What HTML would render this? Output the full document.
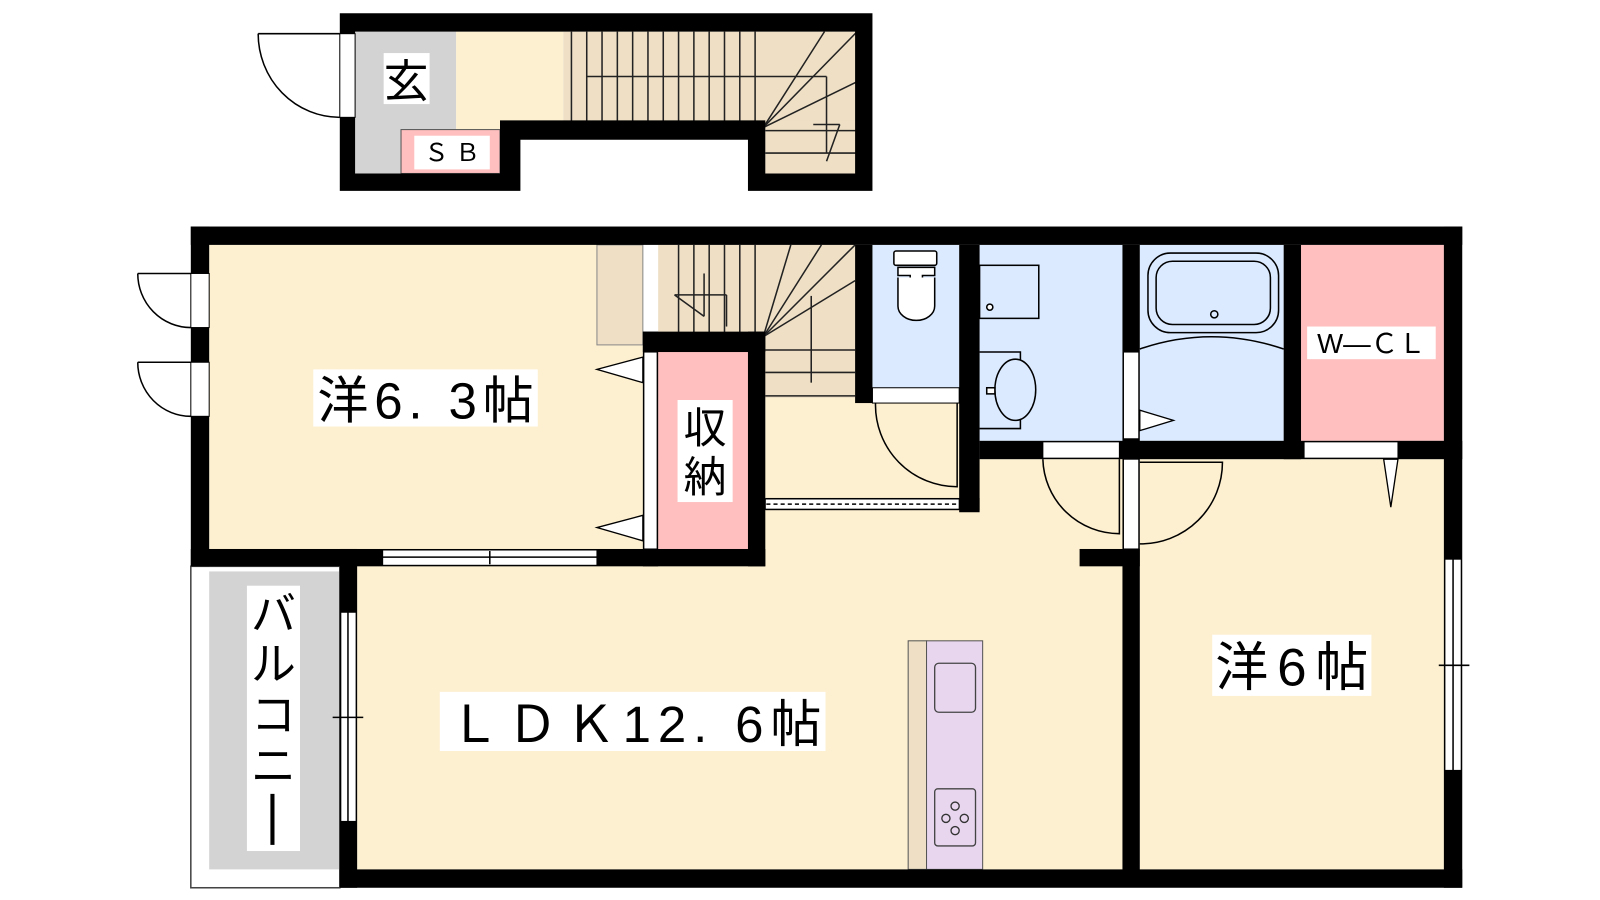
<!DOCTYPE html>
<html><head><meta charset="utf-8"><style>
html,body{margin:0;padding:0;background:#fff;width:1600px;height:900px;overflow:hidden}
svg text{font-family:"Liberation Sans","Noto Sans CJK JP",sans-serif}
</style></head><body>
<svg width="1600" height="900" viewBox="0 0 1568 882" xmlns="http://www.w3.org/2000/svg">
<!-- TOP ENTRY BLOCK -->
<rect x="348" y="31" width="99" height="139" fill="#d3d3d3"/>
<rect x="447" y="31" width="105" height="96" fill="#fdf0d0"/>
<rect x="552" y="31" width="288" height="89" fill="#eedfc5"/>
<rect x="750" y="118" width="90" height="52" fill="#eedfc5"/>
<rect x="393" y="127" width="97" height="43" fill="#ffbfbf" stroke="#555" stroke-width="1"/>
<g stroke="#222" stroke-width="1.5">
<line x1="560" y1="31" x2="560" y2="120"/><line x1="575" y1="31" x2="575" y2="120"/><line x1="590" y1="31" x2="590" y2="120"/><line x1="605" y1="31" x2="605" y2="120"/><line x1="620" y1="31" x2="620" y2="120"/><line x1="635" y1="31" x2="635" y2="120"/><line x1="650" y1="31" x2="650" y2="120"/><line x1="665" y1="31" x2="665" y2="120"/><line x1="680" y1="31" x2="680" y2="120"/><line x1="695" y1="31" x2="695" y2="120"/><line x1="710" y1="31" x2="710" y2="120"/><line x1="725" y1="31" x2="725" y2="120"/><line x1="740" y1="31" x2="740" y2="120"/>
<line x1="575" y1="75" x2="810" y2="75"/><line x1="810" y1="75" x2="810" y2="150"/>
<line x1="748" y1="125" x2="808" y2="31"/><line x1="748" y1="125" x2="840" y2="31"/><line x1="748" y1="125" x2="840" y2="80"/>
<line x1="750" y1="128" x2="840" y2="128"/><line x1="750" y1="150" x2="840" y2="150"/><line x1="750" y1="171" x2="840" y2="171"/>
<line x1="797" y1="122" x2="823" y2="122"/><line x1="823" y1="122" x2="810" y2="158"/>
</g>
<path d="M333,13 H855 V187 H733 V137 H510 V187 H333 Z M348,31 V170 H490 V118 H750 V170 H838 V31 Z" fill="#000" fill-rule="evenodd"/>
<rect x="333" y="33" width="15" height="82" fill="#fff" stroke="#000" stroke-width="1"/>
<path d="M253,33 H333 M253,33 A80,82 0 0 0 333,115" fill="none" stroke="#000" stroke-width="1.5"/>
<rect x="376" y="52" width="45" height="50" fill="#fff"/>
<text x="398" y="95" font-size="44" text-anchor="middle">玄</text>
<rect x="406" y="133" width="74" height="33" fill="#fff"/>
<text x="443" y="158" font-size="24" text-anchor="middle">Ｓ Ｂ</text>

<!-- MAIN BLOCK fills -->
<rect x="350" y="450" width="750" height="402" fill="#fdf0d0"/>
<rect x="750" y="380" width="190" height="170" fill="#fdf0d0"/>
<rect x="1117" y="450" width="298" height="402" fill="#fdf0d0"/>
<rect x="205" y="240" width="425" height="298" fill="#fdf0d0"/>
<rect x="585" y="240" width="45" height="98" fill="#eedfc5" stroke="#888" stroke-width="1"/>
<rect x="645" y="240" width="193" height="150" fill="#eedfc5"/>
<rect x="645" y="345" width="88" height="193" fill="#ffbfbf"/>
<rect x="855" y="240" width="85" height="140" fill="#dbeaff"/>
<rect x="960" y="240" width="140" height="192" fill="#dbeaff"/>
<rect x="1117" y="240" width="141" height="192" fill="#dbeaff"/>
<rect x="1275" y="240" width="140" height="192" fill="#ffbfbf"/>
<rect x="205" y="560" width="128" height="292" fill="#d3d3d3"/>
<rect x="187" y="555" width="146" height="315" fill="none" stroke="#444" stroke-width="1.5"/>
<!-- lower stairs lines -->
<g stroke="#222" stroke-width="1.5">
<line x1="665" y1="240" x2="665" y2="327"/><line x1="680" y1="240" x2="680" y2="327"/><line x1="695" y1="240" x2="695" y2="327"/><line x1="710" y1="240" x2="710" y2="327"/><line x1="725" y1="240" x2="725" y2="327"/><line x1="740" y1="240" x2="740" y2="327"/>
<line x1="661" y1="289" x2="712" y2="289"/><line x1="712" y1="289" x2="712" y2="320"/>
<line x1="690" y1="268" x2="690" y2="310"/><line x1="661" y1="289" x2="690" y2="310"/>
<line x1="748" y1="330" x2="775" y2="240"/><line x1="748" y1="330" x2="805" y2="240"/><line x1="748" y1="330" x2="838" y2="240"/><line x1="748" y1="330" x2="838" y2="275"/>
<line x1="750" y1="343" x2="838" y2="343"/><line x1="750" y1="365" x2="838" y2="365"/><line x1="750" y1="388" x2="838" y2="388"/>
<line x1="795" y1="290" x2="795" y2="375"/>
</g>
<!-- fixtures -->
<g fill="#fff" stroke="#000" stroke-width="1.5">
<rect x="876" y="246" width="42" height="14" rx="2"/>
<path d="M880,262 H916 V270 H904 V275 H892 V270 H880 Z"/>
<path d="M880,272 V300 A18,14 0 0 0 916,300 V272"/>
<rect x="960" y="260" width="58" height="52" fill="#dbeaff"/>
<circle cx="970" cy="301" r="3"/>
<path d="M960,345 H1000 V355 A20,40 0 0 1 1000,410 V420 H960" fill="#dbeaff"/>
<ellipse cx="995" cy="382" rx="20" ry="30" fill="#dbeaff"/>
<rect x="967" y="380" width="8" height="6"/>
<rect x="1125" y="248" width="128" height="78" rx="22" fill="#dbeaff"/>
<rect x="1133" y="256" width="112" height="62" rx="16" fill="#dbeaff"/>
<circle cx="1190" cy="308" r="3.5" fill="#dbeaff"/>
<path d="M1117,342 Q1187,318 1258,342" fill="none"/>
</g>
<!-- kitchen -->
<rect x="890" y="628" width="18" height="224" fill="#eedfc5" stroke="#555" stroke-width="1"/>
<rect x="908" y="628" width="55" height="224" fill="#e8d6ee" stroke="#555" stroke-width="1"/>
<rect x="916" y="650" width="40" height="48" rx="4" fill="#e8d6ee" stroke="#444" stroke-width="1.3"/>
<rect x="916" y="773" width="40" height="56" rx="3" fill="#e8d6ee" stroke="#444" stroke-width="1.3"/>
<g fill="none" stroke="#333" stroke-width="1.3"><circle cx="936" cy="790" r="4"/><circle cx="927" cy="802" r="4"/><circle cx="945" cy="802" r="4"/><circle cx="936" cy="814" r="4"/></g>

<!-- WALLS -->
<g fill="#000">
<rect x="187" y="222" width="1246" height="18"/>
<rect x="187" y="222" width="18" height="333"/>
<rect x="1415" y="222" width="18" height="648"/>
<rect x="333" y="852" width="1100" height="18"/>
<rect x="333" y="538" width="17" height="332"/>
<rect x="187" y="538" width="563" height="17"/>
<rect x="630" y="325" width="15" height="230"/>
<rect x="733" y="325" width="17" height="230"/>
<rect x="630" y="325" width="120" height="20"/>
<rect x="838" y="240" width="17" height="155"/>
<rect x="940" y="240" width="20" height="262"/>
<rect x="750" y="488" width="210" height="12"/>
<rect x="1100" y="240" width="17" height="620"/>
<rect x="1258" y="240" width="17" height="210"/>
<rect x="960" y="432" width="473" height="18"/>
<rect x="1058" y="538" width="59" height="17"/>
</g>
<!-- openings -->
<g fill="#fff" stroke="#000" stroke-width="1">
<rect x="187" y="268" width="18" height="53"/>
<rect x="187" y="355" width="18" height="53"/>
<rect x="375" y="539" width="210" height="15"/>
<rect x="631" y="345" width="13" height="193"/>
<rect x="750" y="489" width="190" height="10"/>
<rect x="855" y="380" width="85" height="15"/>
<rect x="1022" y="433" width="75" height="16"/>
<rect x="1101" y="450" width="15" height="88"/>
<rect x="1101" y="345" width="15" height="85"/>
<rect x="1278" y="433" width="92" height="16"/>
<rect x="1416" y="548" width="16" height="207"/>
<rect x="334" y="600" width="15" height="205"/>
</g>
<g fill="none" stroke="#000" stroke-width="1.5">
<line x1="375" y1="546" x2="585" y2="546"/><line x1="480" y1="540" x2="480" y2="553"/>
<line x1="751" y1="494" x2="940" y2="494" stroke-dasharray="4,3"/>
<line x1="1424" y1="548" x2="1424" y2="755"/><line x1="1410" y1="652" x2="1440" y2="652"/>
<line x1="341" y1="600" x2="341" y2="805"/><line x1="326" y1="703" x2="356" y2="703"/>
<path d="M135,268 H187 M135,268 A52,53 0 0 0 187,321"/>
<path d="M135,355 H187 M135,355 A52,53 0 0 0 187,408"/>
<path d="M858,395 A80,80 0 0 0 938,477 V395"/>
<path d="M1022,450 A75,75 0 0 0 1097,523 V450"/>
<path d="M1117,453 H1198 A80,80 0 0 1 1117,533"/>
</g>
<g fill="#fff" stroke="#000" stroke-width="1.3">
<path d="M630,350 L585,362 L630,375 Z"/>
<path d="M630,505 L585,517 L630,530 Z"/>
<path d="M1117,422 L1150,412 L1117,402 Z"/>
<path d="M1356,450 L1363,497 L1370,450 Z"/>
</g>

<!-- LABELS -->
<rect x="307" y="362" width="220" height="56" fill="#fff"/>
<text x="311" y="410" font-size="50" textLength="212" lengthAdjust="spacing">洋6. 3帖</text>
<rect x="664" y="392" width="54" height="100" fill="#fff"/>
<text x="691" y="434" font-size="42" text-anchor="middle">収</text>
<text x="691" y="482" font-size="42" text-anchor="middle">納</text>
<rect x="1281" y="320" width="126" height="32" fill="#fff"/>
<text x="1344" y="346" font-size="27" text-anchor="middle">W―ＣＬ</text>
<rect x="431" y="678" width="378" height="58" fill="#fff"/>
<text x="440" y="727" font-size="50" textLength="365" lengthAdjust="spacing">ＬＤＫ12. 6帖</text>
<rect x="1188" y="622" width="156" height="60" fill="#fff"/>
<text x="1191" y="672" font-size="52" textLength="150" lengthAdjust="spacing">洋6帖</text>
<rect x="242" y="574" width="52" height="260" fill="#fff"/>
<g font-size="44" text-anchor="middle">
<text x="268" y="617">バ</text><text x="268" y="666">ル</text><text x="268" y="716">コ</text><text x="268" y="766">ニ</text>
</g>
<rect x="265" y="778" width="4" height="50" fill="#000"/>
</svg>
</body></html>
